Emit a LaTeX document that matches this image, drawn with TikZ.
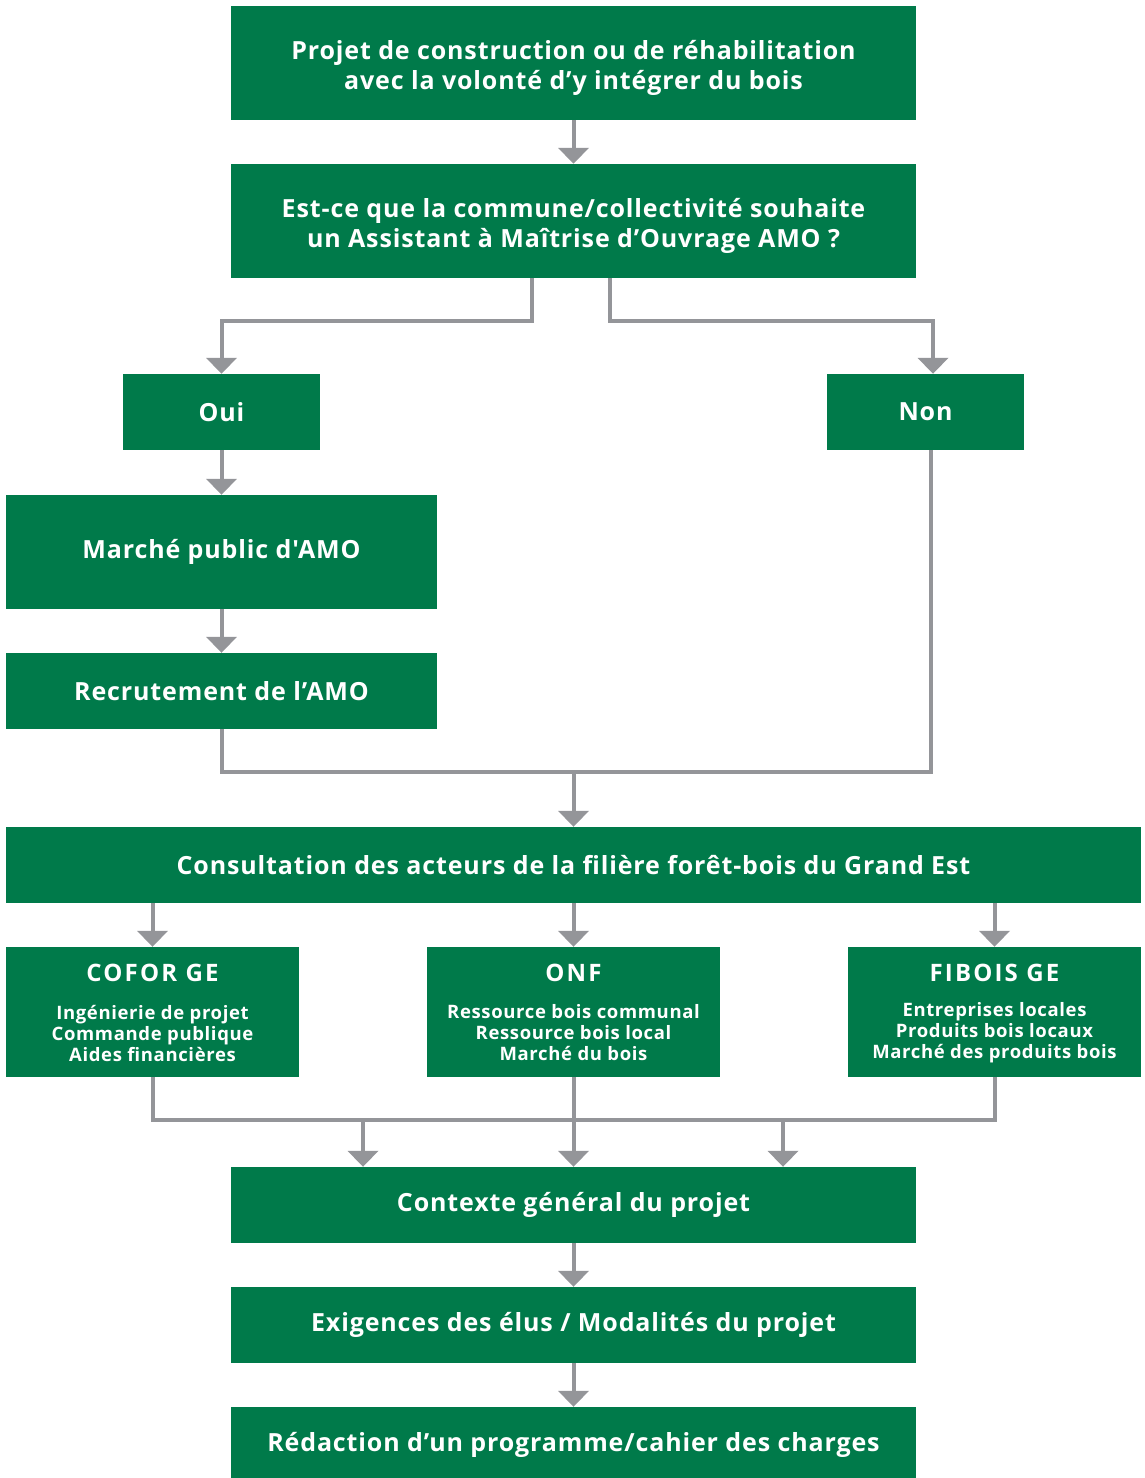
\documentclass[tikz,border=0pt]{standalone}
\usepackage{fontspec}
\setmainfont{Open Sans}[Ligatures=TeXOff, LetterSpace=3.5]
\usetikzlibrary{arrows.meta}
\definecolor{vert}{RGB}{0,122,74}
\definecolor{gris}{RGB}{148,149,153}
\newcommand{\twolines}[2]{\raisebox{-5pt}[\height][\depth]{\begin{tabular}{@{}c@{}}#1\\#2\end{tabular}}}
\begin{document}
\begin{tikzpicture}[x=1pt,y=-1pt,
  box/.style={fill=vert, draw=none, text=white, font=\fontsize{25}{30}\selectfont\bfseries, align=center, inner sep=0pt},
  wide/.style={minimum width=685pt},
  tall/.style={minimum height=114pt},
  short/.style={minimum height=76pt},
  title/.style={text=white, font=\fontsize{24}{28}\selectfont\bfseries\addfontfeatures{LetterSpace=9}, inner sep=0pt},
  sub/.style={text=white, font=\fontsize{18.5}{21}\selectfont\bfseries, align=center, inner sep=0pt},
  conn/.style={draw=gris, line width=4pt},
  arr/.style={conn, -{Triangle[width=30pt,length=16pt]}}]
\useasboundingbox (0,0) rectangle (1145,1478);
\fill[white] (0,0) rectangle (1145,1478);

\node[box, wide, tall] (b1) at (573.5,63) {\twolines{Projet de construction ou de réhabilitation}{avec la volonté d’y intégrer du bois}};
\node[box, wide, tall] (b2) at (573.5,221) {\twolines{Est-ce que la commune/collectivité souhaite}{un Assistant à Maîtrise d’Ouvrage AMO ?}};
\node[box, minimum width=197pt, short] (oui) at (221.5,412) {Oui};
\node[box, minimum width=197pt, short] (non) at (925.5,412) {Non};
\node[box, minimum width=431pt, tall] (amo) at (221.5,552) {Marché public d'AMO};
\node[box, minimum width=431pt, short] (rec) at (221.5,691) {Recrutement de l’AMO};
\node[box, minimum width=1135pt, short] (cons) at (573.5,865) {Consultation des acteurs de la filière forêt-bois du Grand Est};

\node[box, minimum width=293pt, minimum height=130pt] (cofor) at (152.5,1012) {};
\node[box, minimum width=293pt, minimum height=130pt] (onf) at (573.5,1012) {};
\node[box, minimum width=293pt, minimum height=130pt] (fibois) at (994.5,1012) {};
\node[title] (coforT) at (152.5,973) {COFOR GE};
\node[title] (onfT) at (573.5,973) {ONF};
\node[title] (fiboisT) at (994.5,973) {FIBOIS GE};
\node[sub] (coforS) at (152.5,1033) {Ingénierie de projet\\Commande publique\\Aides financières};
\node[sub] (onfS) at (573.5,1033) {Ressource bois communal\\Ressource bois local\\Marché du bois};
\node[sub] (fiboisS) at (994.5,1033) {Entreprises locales\\Produits bois locaux\\Marché des produits bois};

\node[box, wide, short] (ctx) at (573.5,1205) {Contexte général du projet};
\node[box, wide, short] (exi) at (573.5,1325) {Exigences des élus / Modalités du projet};
\node[box, wide, short] (red) at (573.5,1445) {Rédaction d’un programme/cahier des charges};

% connectors
\draw[arr] (b1.south) -- (b2.north);
\draw[arr] ([xshift=-41.5pt]b2.south) -- ++(0,43) -| (oui.north);
\draw[arr] ([xshift=36.5pt]b2.south) -- ++(0,43) -| ([xshift=7.5pt]non.north);
\draw[arr] (oui.south) -- (amo.north);
\draw[arr] (amo.south) -- (rec.north);
\draw[conn] (rec.south) -- ++(0,43) -| ([xshift=5.5pt]non.south);
\coordinate (m1) at (573.5,772);
\draw[arr] (m1) -- (cons.north);

\draw[arr] (cofor.north |- cons.south) -- (cofor.north);
\draw[arr] (onf.north |- cons.south) -- (onf.north);
\draw[arr] (fibois.north |- cons.south) -- (fibois.north);

\draw[conn] (cofor.south) -- ++(0,43) -| (fibois.south);
\draw[arr] (onf.south) -- (ctx.north);
\coordinate (j1) at (363,1120);
\coordinate (j2) at (783,1120);
\draw[arr] (j1) -- (j1 |- ctx.north);
\draw[arr] (j2) -- (j2 |- ctx.north);

\draw[arr] (ctx.south) -- (exi.north);
\draw[arr] (exi.south) -- (red.north);
\end{tikzpicture}
\end{document}
